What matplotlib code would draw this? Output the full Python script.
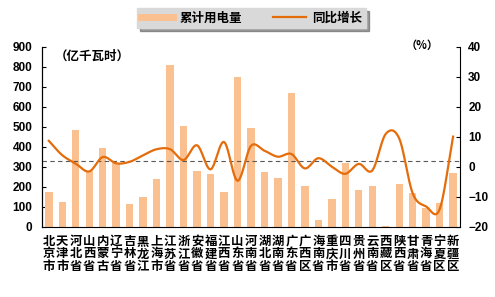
import numpy as np
import matplotlib
matplotlib.use("Agg")
import matplotlib.pyplot as plt
from matplotlib.lines import Line2D

plt.rcParams['font.family'] = ['Noto Sans CJK SC', 'DejaVu Sans']

# provinces, cumulative electricity use (亿千瓦时) and yoy growth (%)
provinces = ['北京市', '天津市', '河北省', '山西省', '内蒙古', '辽宁省', '吉林省', '黑龙江',
             '上海市', '江苏省', '浙江省', '安徽省', '福建省', '江西省', '山东省', '河南省',
             '湖北省', '湖南省', '广东省', '广西区', '海南省', '重庆市', '四川省', '贵州省',
             '云南省', '西藏区', '陕西省', '甘肃省', '青海省', '宁夏区', '新疆区']
usage = [175, 123, 485, 280, 395, 320, 115, 150,
         240, 810, 505, 278, 265, 175, 750, 493,
         273, 245, 670, 205, 33, 138, 320, 183,
         205, 5, 213, 168, 95, 120, 270]
growth = [8.6, 3.8, 1.0, -1.6, 3.2, 1.1, 1.6, 3.8,
          5.8, 5.8, 2.2, 7.1, -0.9, 8.2, -4.7, 6.9,
          5.3, 3.3, 4.2, -0.6, 2.8, 0.0, -2.4, 0.9,
          -1.3, 10.9, 9.4, -8.9, -13.3, -14.2, 10.0]
national = 1.9

BAR = '#FAC090'
LINE = '#E46C0A'
NUM = 'Liberation Sans'


def smooth(xs, ys, n=24):
    # Catmull-Rom drawing between the data points (like Excel's smoothed line)
    xs = np.asarray(xs, float)
    ys = np.asarray(ys, float)
    px = np.concatenate([[2 * xs[0] - xs[1]], xs, [2 * xs[-1] - xs[-2]]])
    py = np.concatenate([[2 * ys[0] - ys[1]], ys, [2 * ys[-1] - ys[-2]]])
    outx, outy = [], []
    t = np.linspace(0, 1, n, endpoint=False)
    for i in range(1, len(px) - 2):
        for p, out in ((px, outx), (py, outy)):
            p0, p1, p2, p3 = p[i - 1], p[i], p[i + 1], p[i + 2]
            out.extend(0.5 * (2 * p1 + (-p0 + p2) * t
                              + (2 * p0 - 5 * p1 + 4 * p2 - p3) * t ** 2
                              + (-p0 + 3 * p1 - 3 * p2 + p3) * t ** 3))
    outx.append(xs[-1])
    outy.append(ys[-1])
    return np.array(outx), np.array(outy)


fig = plt.figure(figsize=(4.95, 2.97), dpi=100)
ax = fig.add_axes([0.085, 0.237, 0.844, 0.606])
ax2 = ax.twinx()

x = np.arange(len(provinces))
ax.bar(x, usage, width=0.55, color=BAR, zorder=2)
ax.set_xlim(-0.5, len(provinces) - 0.5)
ax.set_ylim(0, 900)
ax.set_yticks(range(0, 901, 100))
ax.set_xticks(x)
ax.set_xticklabels(['\n'.join(p) for p in provinces], fontsize=8.9, fontweight='bold',
                   linespacing=0.95)
ax.tick_params(axis='x', length=0, pad=6)
ax.tick_params(axis='y', direction='in', length=3, pad=7)
for lab in ax.get_yticklabels():
    lab.set_fontfamily(NUM)
    lab.set_fontweight('bold')
    lab.set_fontsize(8.5)

sx, sy = smooth(x, growth)
ax2.plot(sx, sy, color=LINE, lw=1.6, zorder=3)
ax2.axhline(national, color='#595959', lw=0.8, ls=(0, (4, 3)), zorder=1)
ax2.set_ylim(-20, 40)
ax2.set_yticks(range(-20, 41, 10))
ax2.tick_params(axis='y', direction='in', length=3, pad=6)
for lab in ax2.get_yticklabels():
    lab.set_fontfamily(NUM)
    lab.set_fontweight('bold')
    lab.set_fontsize(8.5)

for a in (ax, ax2):
    a.spines['top'].set_visible(False)
ax2.spines['bottom'].set_visible(False)
ax.spines['right'].set_visible(False)

ax.text(0.03, 0.985, '（亿千瓦时）', transform=ax.transAxes, fontsize=9,
        fontweight='bold', va='top', ha='left')
ax2.text(0.91, 1.045, '（%）', transform=ax2.transAxes, fontsize=8,
         fontweight='bold', va='top', ha='center')

handles = [Line2D([], [], color=BAR, lw=5), Line2D([], [], color=LINE, lw=1.6)]
leg = fig.legend(handles, ['累计用电量', '同比增长'], loc='upper center',
                 bbox_to_anchor=(0.508, 0.995), ncol=2, frameon=True, shadow=True,
                 fancybox=False, facecolor='#D9D9D9', edgecolor='#D9D9D9',
                 framealpha=1, prop={'size': 9, 'weight': 'bold'},
                 handlelength=2.6, columnspacing=2.5, borderpad=0.3,
                 handletextpad=0.5)

fig.savefig('out.png', dpi=100)
